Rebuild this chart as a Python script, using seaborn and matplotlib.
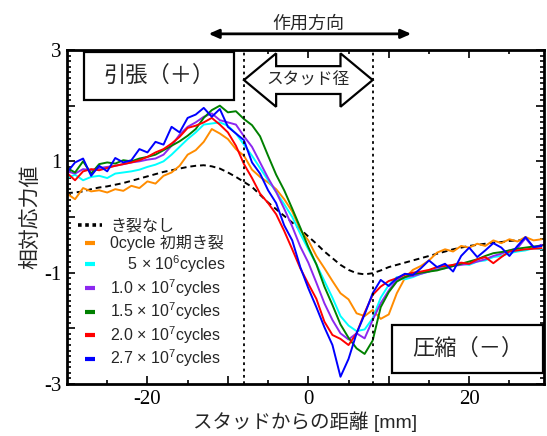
import pandas as pd
import seaborn as sns
import matplotlib.pyplot as plt
from matplotlib.lines import Line2D
from matplotlib.patches import Rectangle, Polygon

# distance from stud [mm]
x_mm = list(range(-30, 30))
no_crack_x = list(range(-30, 28))

no_crack = [0.43, 0.44, 0.46, 0.50, 0.53, 0.55, 0.58, 0.61, 0.65, 0.69,
            0.73, 0.77, 0.81, 0.84, 0.87, 0.90, 0.92, 0.93, 0.91, 0.87,
            0.80, 0.72, 0.63, 0.54, 0.40, 0.26, 0.14, 0.02, -0.10, -0.22,
            -0.35, -0.48, -0.62, -0.74, -0.86, -0.95, -1.01, -1.03, -1.01, -0.96,
            -0.90, -0.86, -0.82, -0.78, -0.74, -0.70, -0.66, -0.62, -0.58, -0.55,
            -0.52, -0.50, -0.48, -0.46, -0.45, -0.43, -0.42, -0.41]

c0 = [0.42, 0.32, 0.52, 0.46, 0.48, 0.44, 0.50, 0.47, 0.56, 0.52,
      0.64, 0.60, 0.74, 0.80, 0.92, 1.12, 1.20, 1.35, 1.58, 1.50,
      1.40, 1.22, 1.10, 0.85, 0.72, 0.62, 0.50, 0.32, 0.10, -0.23,
      -0.42, -0.70, -0.92, -1.15, -1.37, -1.48, -1.73, -1.78, -1.67, -1.83,
      -1.75, -1.37, -1.10, -0.95, -0.88, -0.78, -0.64, -0.58, -0.62, -0.52,
      -0.55, -0.48, -0.52, -0.42, -0.47, -0.40, -0.44, -0.36, -0.42, -0.40]

c5e6 = [0.70, 0.76, 0.66, 0.72, 0.74, 0.70, 0.78, 0.80, 0.82, 0.85,
        0.90, 0.94, 1.00, 1.12, 1.26, 1.40, 1.52, 1.66, 1.68, 1.70,
        1.64, 1.50, 1.30, 1.10, 0.88, 0.66, 0.45, 0.23, 0.00, -0.30,
        -0.58, -0.85, -1.15, -1.45, -1.78, -1.95, -2.05, -2.02, -1.82, -1.45,
        -1.22, -1.08, -1.12, -1.08, -1.02, -0.98, -0.90, -0.92, -0.86, -0.84,
        -0.86, -0.80, -0.78, -0.72, -0.70, -0.65, -0.62, -0.60, -0.56, -0.58]

c1e7 = [0.82, 0.78, 0.86, 0.84, 0.88, 0.90, 0.92, 0.95, 0.98, 1.00,
        1.03, 1.05, 1.12, 1.28, 1.48, 1.62, 1.70, 1.80, 1.86, 1.74,
        1.70, 1.66, 1.45, 1.26, 0.98, 0.70, 0.45, 0.15, -0.17, -0.53,
        -0.82, -1.18, -1.55, -1.85, -2.09, -2.20, -2.09, -2.18, -1.85, -1.55,
        -1.32, -1.13, -1.08, -1.06, -1.02, -0.98, -0.94, -0.92, -0.88, -0.86,
        -0.84, -0.80, -0.76, -0.70, -0.66, -0.60, -0.56, -0.38, -0.55, -0.50]

c15e7 = [0.88, 0.80, 1.00, 0.78, 0.95, 0.98, 0.96, 1.02, 1.00, 1.05,
         1.08, 1.12, 1.20, 1.28, 1.36, 1.46, 1.58, 1.78, 1.92, 2.00,
         1.88, 1.90, 1.76, 1.65, 1.45, 1.10, 0.76, 0.48, 0.15, -0.19,
         -0.54, -0.85, -1.25, -1.58, -1.93, -2.17, -2.36, -2.46, -2.22, -1.62,
         -1.35, -1.16, -1.08, -1.03, -1.00, -0.98, -0.96, -0.92, -0.88, -0.84,
         -0.80, -0.76, -0.70, -0.65, -0.63, -0.60, -0.57, -0.55, -0.53, -0.52]

c2e7 = [0.79, 0.66, 0.82, 0.86, 0.84, 0.88, 0.92, 0.95, 0.98, 1.02,
        1.08, 1.16, 1.22, 1.32, 1.44, 1.60, 1.64, 1.70, 1.78, 1.66,
        1.52, 1.28, 0.95, 0.70, 0.42, 0.25, 0.05, -0.25, -0.58, -0.92,
        -1.20, -1.47, -1.88, -2.12, -2.19, -2.30, -2.09, -1.72, -1.40, -1.25,
        -1.15, -1.10, -1.04, -1.00, -0.98, -0.95, -0.90, -0.88, -0.86, -0.82,
        -0.84, -0.76, -0.72, -0.83, -0.72, -0.62, -0.60, -0.58, -0.57, -0.56]

c27e7 = [0.80, 0.98, 1.05, 0.74, 0.92, 0.82, 1.06, 0.98, 1.02, 1.22,
         1.16, 1.35, 1.30, 1.62, 1.52, 1.78, 1.84, 1.96, 1.80, 1.94,
         1.62, 1.50, 1.38, 0.98, 0.78, 0.48, 0.25, -0.15, -0.42, -0.90,
         -1.28, -1.62, -1.98, -2.30, -2.87, -2.55, -2.09, -1.75, -1.37, -1.13,
         -1.24, -1.10, -1.02, -1.04, -0.92, -0.78, -0.90, -0.84, -0.98, -0.70,
         -0.55, -0.72, -0.60, -0.47, -0.55, -0.70, -0.52, -0.36, -0.54, -0.52]

labels = ['0cycle 初期き裂', '    5 × 10$^6$cycles', '1.0 × 10$^7$cycles',
          '1.5 × 10$^7$cycles', '2.0 × 10$^7$cycles', '2.7 × 10$^7$cycles']
colors = ['#FF8C00', '#00FFFF', '#8C28F0', '#008000', '#FF0000', '#0000FF']
series = [c0, c5e6, c1e7, c15e7, c2e7, c27e7]

df = pd.concat([pd.DataFrame({'x': x_mm, 'y': s, 'series': lab})
                for s, lab in zip(series, labels)], ignore_index=True)

sns.set_theme(style='ticks')
plt.rcParams['font.family'] = ['Liberation Sans', 'Noto Sans CJK JP']
plt.rcParams['mathtext.fontset'] = 'custom'
plt.rcParams['mathtext.rm'] = 'Liberation Sans'
plt.rcParams['axes.unicode_minus'] = False

fig = plt.figure(figsize=(5.47, 4.36), dpi=100)
ax = fig.add_axes([67 / 547, 52 / 436, 477 / 547, 334 / 436])

sns.lineplot(x=no_crack_x, y=no_crack, color='black', lw=1.4,
             linestyle=(0, (3, 2)), ax=ax)
sns.lineplot(data=df, x='x', y='y', hue='series', hue_order=labels,
             palette=colors, lw=1.4, estimator=None, sort=False,
             legend=False, ax=ax)

# stud edges
for xv in (-8, 8):
    ax.axvline(xv, color='black', ls=(0, (1.5, 2)), lw=1.3)

ax.set_xlim(-30, 29.3)
ax.set_ylim(-3, 3)
ax.set_xticks([-20, -10, 0, 10, 20])
ax.set_xticklabels(['-20', '', '0', '', '20'], fontfamily='Liberation Serif', fontsize=15)
ax.set_xticks(range(-25, 30, 10), minor=True)
ax.set_yticks([-3, -2, -1, 0, 1, 2, 3])
ax.set_yticklabels(['-3', '', '-1', '', '1', '', '3'], fontfamily='Liberation Serif', fontsize=15)
ax.set_yticks([i / 10 for i in range(-30, 31)], minor=True)
ax.tick_params(which='both', direction='in', top=True, right=True, width=1.2, colors='black')
ax.tick_params(which='major', length=6, pad=4)
ax.tick_params(which='minor', length=3)
for sp in ax.spines.values():
    sp.set_linewidth(2)
    sp.set_color('black')

ax.set_xlabel('スタッドからの距離 [mm]', fontsize=14, labelpad=2)
ax.set_ylabel('相対応力値', fontsize=15, labelpad=3)

# boxes
ax.add_patch(Rectangle((-27.9, 2.10), 18.6, 0.86, fc='white', ec='black', lw=1.6, zorder=5))
ax.text(-18.6, 2.52, '引張（＋）', fontsize=16, ha='center', va='center', zorder=6)
ax.add_patch(Rectangle((10.4, -2.80), 18.8, 0.86, fc='white', ec='black', lw=1.6, zorder=5))
ax.text(19.8, -2.37, '圧縮（－）', fontsize=16, ha='center', va='center', zorder=6)

# hollow double arrow for stud diameter
arrow_pts = [(-8, 2.46), (-4, 2.94), (-4, 2.71), (4, 2.71), (4, 2.94),
             (8, 2.46), (4, 1.98), (4, 2.21), (-4, 2.21), (-4, 1.98)]
ax.add_patch(Polygon(arrow_pts, closed=True, fc='white', ec='black', lw=1.6, zorder=5))
ax.text(0, 2.45, 'スタッド径', fontsize=12, ha='center', va='center', zorder=6)

# loading direction
ax.annotate('', xy=(-12.4, 3.29), xytext=(12.8, 3.29),
            arrowprops=dict(arrowstyle='<|-|>,head_length=0.5,head_width=0.22',
                            lw=2, color='black', shrinkA=0, shrinkB=0),
            annotation_clip=False)
ax.text(0, 3.47, '作用方向', fontsize=13, ha='center', va='center', clip_on=False)

handles = [Line2D([], [], color='black', ls=(0, (1, 1)), lw=2.6)]
handles += [Line2D([], [], color=c, marker='_', ls='none', ms=7, mew=3) for c in colors]
ax.legend(handles, ['き裂なし'] + labels, loc='upper left', bbox_to_anchor=(0.01, 0.515),
          frameon=False, fontsize=11.5, handlelength=1.5, handletextpad=0.5,
          labelspacing=0.12, borderaxespad=0)

fig.savefig('out.png', dpi=100)
